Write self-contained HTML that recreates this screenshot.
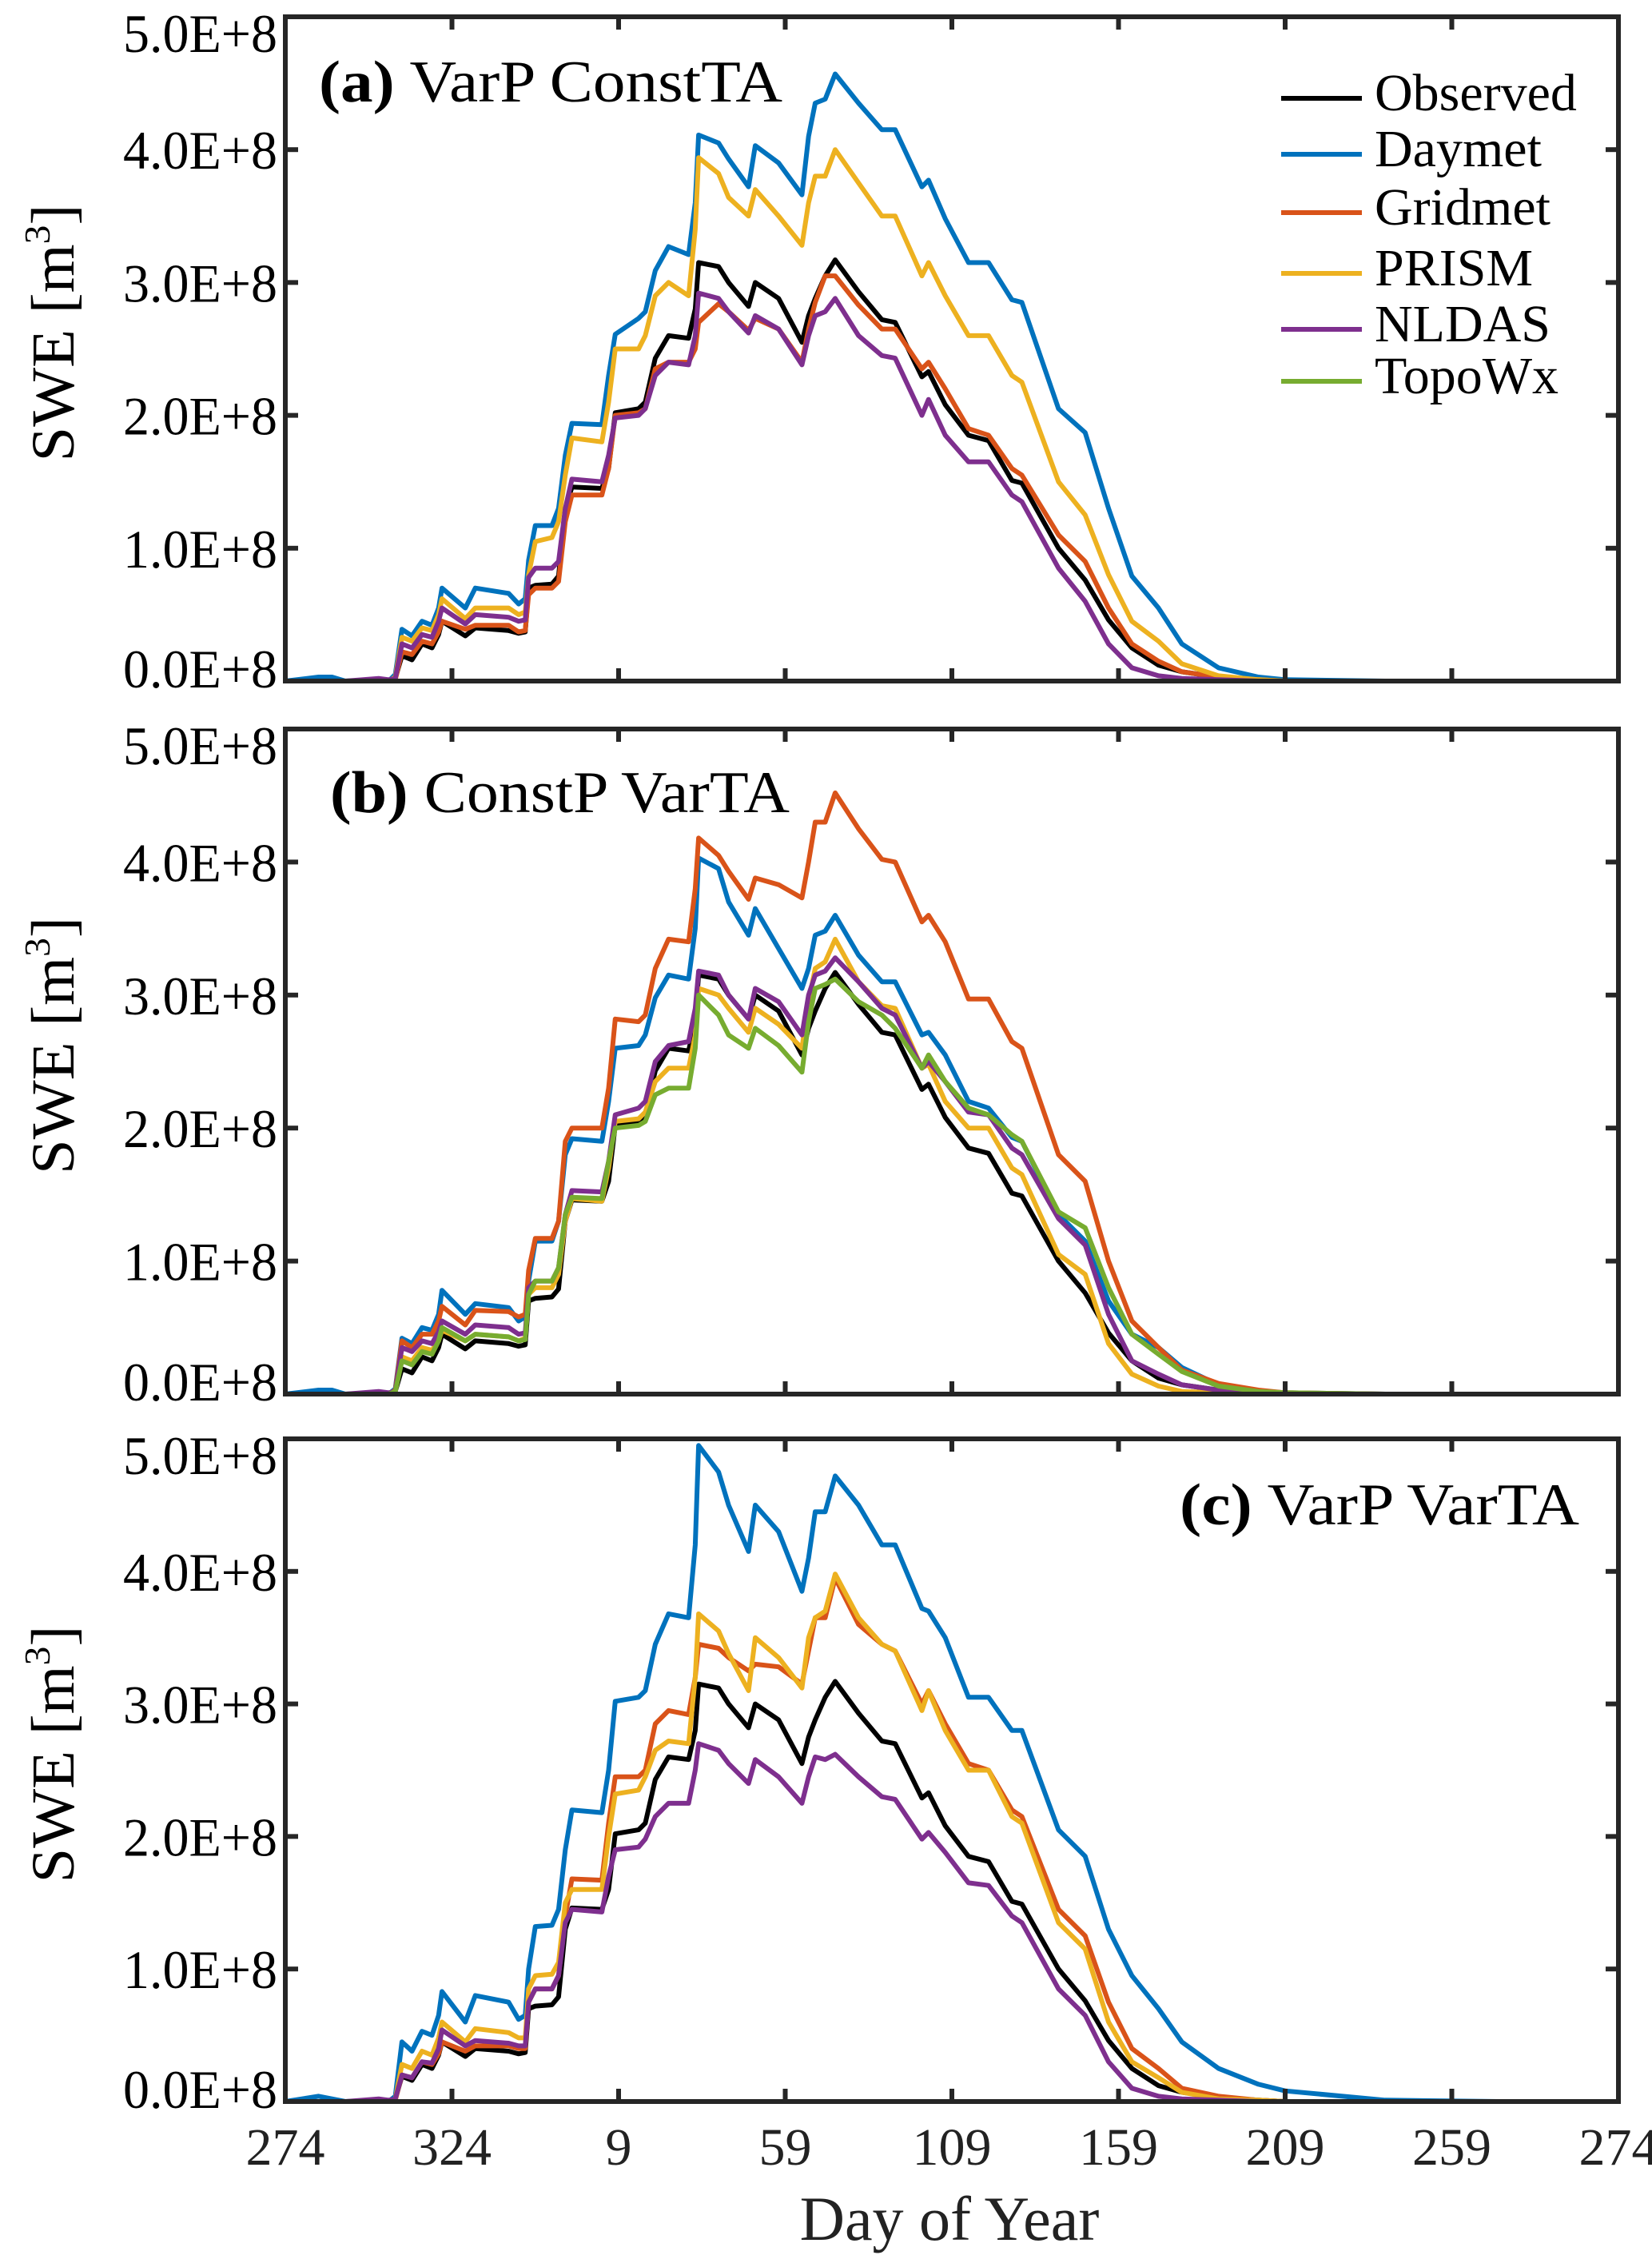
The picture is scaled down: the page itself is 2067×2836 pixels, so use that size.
<!DOCTYPE html>
<html><head><meta charset="utf-8"><title>SWE panels</title>
<style>
html,body{margin:0;padding:0;background:#fff;}
svg{display:block;font-family:"Liberation Serif","DejaVu Serif",serif;}
</style></head>
<body>
<svg id="fig" xmlns="http://www.w3.org/2000/svg" width="2067" height="2836" viewBox="0 0 2067 2836">
<rect x="0" y="0" width="2067" height="2836" fill="#fff"/>
</svg>
<script>
// ---- data (values in 1E+8 m^3) ----
const days = [0,10,14,18,28,31,33,35,38,41,44,46,47,54,57,67,70,72,73,75,80,82,84,86,95,97,99,106,108,111,115,121,123,124,130,133,139,141,148,155,157,159,162,165,172,179,183,191,193,198,205,211,218,221,232,240,247,254,262,269,280,292,300,330,364];
const xTickLabels = ["274","324","9","59","109","159","209","259","274"];
const yTickLabels = ["0.0E+8","1.0E+8","2.0E+8","3.0E+8","4.0E+8","5.0E+8"];
const seriesNames = ["Observed","Daymet","Gridmet","PRISM","NLDAS","TopoWx"];
const panelTitlesBold = ["(a)","(b)","(c)"];
const panelTitlesText = ["VarP ConstTA","ConstP VarTA","VarP VarTA"];

const observed = [0,0,0,0,0,0,0.02,0.19,0.16,0.28,0.25,0.35,0.45,0.34,0.40,0.38,0.36,0.37,0.70,0.72,0.73,0.79,1.30,1.46,1.45,1.60,2.02,2.05,2.10,2.43,2.60,2.58,2.80,3.15,3.12,3.00,2.82,3.00,2.88,2.55,2.75,2.88,3.05,3.17,2.93,2.72,2.70,2.29,2.33,2.08,1.85,1.81,1.51,1.49,1.00,0.76,0.46,0.25,0.12,0.07,0.03,0.01,0,0,0];

const daymetA = [0,0.03,0.03,0,0.01,0,0.05,0.39,0.34,0.45,0.42,0.55,0.70,0.55,0.70,0.66,0.58,0.62,0.91,1.17,1.17,1.30,1.70,1.94,1.93,2.30,2.61,2.73,2.78,3.09,3.27,3.21,3.60,4.11,4.05,3.93,3.72,4.03,3.90,3.66,4.10,4.35,4.38,4.57,4.35,4.15,4.15,3.72,3.77,3.48,3.15,3.15,2.87,2.85,2.05,1.87,1.30,0.79,0.55,0.28,0.10,0.03,0.01,0,0];
const gridmetA = [0,0,0,0,0,0,0.01,0.22,0.20,0.30,0.28,0.37,0.45,0.39,0.42,0.42,0.37,0.38,0.65,0.70,0.70,0.75,1.20,1.40,1.40,1.60,2.00,2.02,2.05,2.35,2.40,2.40,2.50,2.70,2.84,2.78,2.64,2.73,2.65,2.40,2.65,2.85,3.05,3.05,2.83,2.65,2.65,2.35,2.40,2.20,1.90,1.85,1.60,1.55,1.10,0.90,0.55,0.28,0.15,0.07,0.03,0.01,0,0,0];
const prismA = [0,0,0,0,0,0,0.03,0.33,0.30,0.40,0.38,0.50,0.62,0.47,0.55,0.55,0.50,0.52,0.80,1.05,1.08,1.20,1.55,1.83,1.80,2.10,2.50,2.50,2.60,2.90,3.00,2.90,3.40,3.94,3.82,3.64,3.50,3.70,3.50,3.28,3.60,3.80,3.80,4.00,3.75,3.50,3.50,3.05,3.15,2.90,2.60,2.60,2.30,2.25,1.50,1.25,0.80,0.45,0.30,0.13,0.04,0.01,0,0,0];
const nldasA = [0,0,0,0,0.02,0.01,0.02,0.28,0.25,0.35,0.33,0.45,0.55,0.43,0.50,0.48,0.45,0.46,0.78,0.85,0.85,0.90,1.30,1.52,1.50,1.70,1.98,2.00,2.05,2.30,2.40,2.38,2.60,2.92,2.88,2.78,2.62,2.75,2.65,2.38,2.60,2.75,2.78,2.88,2.60,2.45,2.43,2.00,2.12,1.85,1.65,1.65,1.40,1.35,0.85,0.60,0.28,0.10,0.04,0.02,0.01,0,0,0,0];

const daymetB = [0,0.03,0.03,0,0.01,0,0.04,0.42,0.38,0.50,0.48,0.60,0.78,0.60,0.68,0.65,0.55,0.58,0.85,1.15,1.15,1.30,1.80,1.92,1.90,2.20,2.60,2.62,2.70,2.98,3.15,3.12,3.50,4.03,3.95,3.70,3.45,3.65,3.35,3.05,3.20,3.45,3.48,3.60,3.30,3.10,3.10,2.70,2.72,2.55,2.20,2.15,1.93,1.90,1.35,1.15,0.70,0.45,0.35,0.20,0.07,0.02,0.01,0,0];
const gridmetB = [0,0,0,0,0,0,0.03,0.40,0.35,0.45,0.45,0.55,0.66,0.52,0.63,0.62,0.58,0.60,0.93,1.17,1.17,1.30,1.90,2.00,2.00,2.30,2.82,2.80,2.85,3.20,3.42,3.40,3.80,4.18,4.05,3.93,3.72,3.88,3.83,3.73,4.00,4.30,4.30,4.52,4.25,4.02,4.00,3.55,3.60,3.40,2.97,2.97,2.65,2.60,1.80,1.60,1.00,0.55,0.35,0.18,0.08,0.03,0.01,0,0];
const prismB = [0,0,0,0,0,0,0.02,0.28,0.25,0.35,0.33,0.40,0.48,0.40,0.45,0.43,0.40,0.42,0.75,0.80,0.80,0.90,1.30,1.47,1.45,1.70,2.05,2.07,2.12,2.35,2.45,2.45,2.70,3.05,3.00,2.90,2.72,2.90,2.78,2.60,2.95,3.20,3.25,3.42,3.10,2.92,2.90,2.45,2.48,2.20,2.00,2.00,1.70,1.65,1.05,0.90,0.38,0.15,0.06,0.02,0.01,0,0,0,0];
const nldasB = [0,0,0,0,0.02,0.01,0.02,0.35,0.32,0.40,0.38,0.47,0.55,0.45,0.52,0.50,0.45,0.46,0.80,0.85,0.85,0.95,1.35,1.53,1.52,1.75,2.10,2.15,2.20,2.50,2.62,2.65,2.90,3.18,3.15,3.00,2.82,3.05,2.95,2.70,3.00,3.15,3.18,3.28,3.10,2.90,2.85,2.45,2.50,2.35,2.12,2.10,1.85,1.80,1.32,1.12,0.60,0.25,0.15,0.07,0.03,0.01,0,0,0];
const topowxB = [0,0,0,0,0,0,0.02,0.25,0.22,0.32,0.30,0.40,0.50,0.40,0.45,0.43,0.40,0.41,0.75,0.85,0.85,0.95,1.35,1.48,1.47,1.75,2.00,2.02,2.05,2.25,2.30,2.30,2.60,3.00,2.85,2.70,2.60,2.75,2.62,2.42,2.80,3.05,3.08,3.12,2.95,2.85,2.75,2.45,2.55,2.35,2.15,2.10,1.95,1.90,1.37,1.25,0.80,0.45,0.30,0.17,0.06,0.02,0.01,0,0];

const daymetC = [0,0.04,0.02,0,0.01,0,0.04,0.45,0.38,0.53,0.50,0.65,0.83,0.60,0.80,0.75,0.62,0.65,1.00,1.32,1.33,1.45,1.90,2.20,2.18,2.50,3.02,3.05,3.10,3.45,3.68,3.65,4.20,4.95,4.75,4.50,4.15,4.50,4.30,3.85,4.10,4.45,4.45,4.72,4.50,4.20,4.20,3.72,3.70,3.50,3.05,3.05,2.80,2.80,2.05,1.85,1.30,0.95,0.70,0.45,0.25,0.13,0.08,0.01,0];
const gridmetC = [0,0,0,0,0,0,0.01,0.20,0.18,0.30,0.28,0.36,0.45,0.38,0.42,0.42,0.40,0.40,0.75,0.85,0.85,0.95,1.40,1.68,1.67,2.10,2.45,2.45,2.50,2.85,2.95,2.92,3.20,3.45,3.42,3.35,3.25,3.30,3.28,3.15,3.40,3.65,3.65,3.95,3.60,3.45,3.40,3.00,3.10,2.85,2.55,2.50,2.20,2.15,1.45,1.25,0.75,0.40,0.25,0.10,0.04,0.01,0,0,0];
const prismC = [0,0,0,0,0,0,0.02,0.28,0.25,0.38,0.35,0.48,0.60,0.45,0.55,0.52,0.48,0.48,0.85,0.95,0.96,1.05,1.50,1.60,1.60,2.00,2.32,2.35,2.45,2.65,2.72,2.70,3.20,3.68,3.55,3.38,3.10,3.50,3.35,3.12,3.50,3.65,3.70,3.98,3.65,3.45,3.40,2.95,3.10,2.80,2.50,2.50,2.15,2.10,1.35,1.15,0.60,0.30,0.18,0.07,0.02,0.01,0,0,0];
const nldasC = [0,0,0,0,0.02,0.01,0.02,0.20,0.18,0.30,0.29,0.40,0.54,0.42,0.46,0.44,0.42,0.42,0.75,0.85,0.85,0.95,1.35,1.45,1.43,1.70,1.90,1.92,1.98,2.15,2.25,2.25,2.50,2.70,2.65,2.55,2.40,2.58,2.45,2.25,2.45,2.60,2.58,2.62,2.45,2.30,2.28,1.98,2.03,1.88,1.65,1.63,1.40,1.35,0.85,0.65,0.30,0.10,0.04,0.02,0.01,0,0,0,0];

const colors = {Observed:"#000000",Daymet:"#0072BD",Gridmet:"#D95319",PRISM:"#EDB120",NLDAS:"#7E2F8E",TopoWx:"#77AC30"};
const panels = [
  {top:21, bottom:852, series:[["Observed",observed],["Daymet",daymetA],["Gridmet",gridmetA],["PRISM",prismA],["NLDAS",nldasA]]},
  {top:912, bottom:1744, series:[["Observed",observed],["Daymet",daymetB],["Gridmet",gridmetB],["PRISM",prismB],["NLDAS",nldasB],["TopoWx",topowxB]]},
  {top:1800, bottom:2629, series:[["Observed",observed],["Daymet",daymetC],["Gridmet",gridmetC],["PRISM",prismC],["NLDAS",nldasC]]}
];

const NS="http://www.w3.org/2000/svg";
const svg=document.getElementById('fig');
const L=357, R=2025, XMAX=400, YMAX=5;
function xScale(d){return L+d/XMAX*(R-L);}
function mk(tag,attrs,parent){const e=document.createElementNS(NS,tag);for(const k in attrs)e.setAttribute(k,attrs[k]);(parent||svg).appendChild(e);return e;}

panels.forEach((p,pi)=>{
  const yScale=v=>p.bottom-v/YMAX*(p.bottom-p.top);
  const g=mk('g',{});
  
  
  p.series.forEach(([name,vals])=>{
    let dstr='';
    vals.forEach((v,i)=>{dstr+=(i?'L':'M')+xScale(days[i]).toFixed(1)+' '+yScale(v).toFixed(1);});
    const path=mk('path',{d:dstr,fill:'none',stroke:colors[name],'stroke-width':6,'stroke-linejoin':'round','stroke-linecap':'round'},g);
    
    
  });
  const box=mk('rect',{x:L,y:p.top,width:R-L,height:p.bottom-p.top,fill:'none',stroke:'#262626','stroke-width':6},g);
  
  
  yTickLabels.forEach((lab,i)=>{
    const y=yScale(i);
    const t1=mk('line',{x1:L,x2:L+16,y1:y,y2:y,stroke:'#262626','stroke-width':6},g);
    
    
    const t2=mk('line',{x1:R,x2:R-16,y1:y,y2:y,stroke:'#262626','stroke-width':6},g);
    
    
    let by=y+24;
    if(i===YMAX) by=p.top+44;
    if(i===0) by=p.bottom+8;
    const tx=mk('text',{x:347,y:by,'text-anchor':'end','font-size':68,textLength:193,lengthAdjust:'spacingAndGlyphs',fill:'#000'},g);
    tx.textContent=lab;
    
    
  });
  xTickLabels.forEach((lab,i)=>{
    const x=xScale(i*50);
    const a=mk('line',{x1:x,x2:x,y1:p.bottom,y2:p.bottom-16,stroke:'#262626','stroke-width':6},g);
    
    
    const b=mk('line',{x1:x,x2:x,y1:p.top,y2:p.top+16,stroke:'#262626','stroke-width':6},g);
    
    
    if(pi===2){
      const tx=mk('text',{x:x,y:2708,'text-anchor':'middle','font-size':66,fill:'#222'},g);
      tx.textContent=lab;
      
      
    }
  });
  const cy=(p.top+p.bottom)/2-20;
  const yt=mk('text',{x:0,y:0,transform:'translate(92,'+cy+') rotate(-90)','text-anchor':'middle','font-size':76,textLength:322,lengthAdjust:'spacingAndGlyphs',fill:'#000'},g);
  yt.innerHTML='SWE [m<tspan font-size="46" dy="-30">3</tspan><tspan dy="30">]</tspan>';
  
  
  let tAttrs;
  if(pi===0) tAttrs={x:399,y:127,'text-anchor':'start',textLength:580};
  else if(pi===1) tAttrs={x:413,y:1016,'text-anchor':'start',textLength:575};
  else tAttrs={x:1976,y:1907,'text-anchor':'end',textLength:500};
  tAttrs['font-size']=74; tAttrs.fill='#000'; tAttrs.lengthAdjust='spacingAndGlyphs';
  const tt=mk('text',tAttrs,g);
  tt.innerHTML='<tspan font-weight="bold">'+panelTitlesBold[pi]+'</tspan> '+panelTitlesText[pi];
  
  
});

const legendY=[123,193,266,342,412,477];
const lg=mk('g',{});


seriesNames.forEach((n,i)=>{
  const ln=mk('line',{x1:1603,x2:1704,y1:legendY[i],y2:legendY[i],stroke:colors[n],'stroke-width':6},lg);
  
  
  const tx=mk('text',{x:1720,y:legendY[i]+15,'font-size':66,fill:'#000'},lg);
  tx.textContent=n;
  
  
});

const xt=mk('text',{x:1188,y:2802,'text-anchor':'middle','font-size':78,fill:'#222'});
xt.textContent='Day of Year';


</script>
</body></html>
